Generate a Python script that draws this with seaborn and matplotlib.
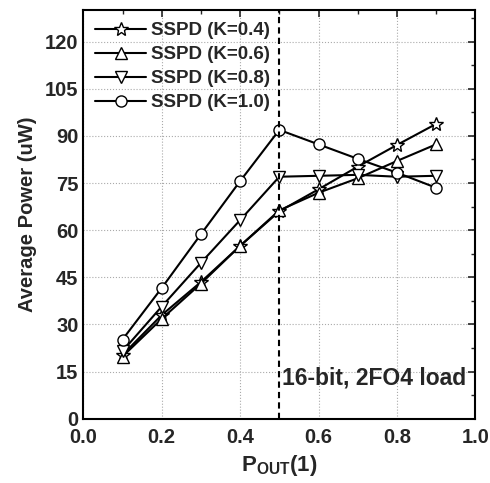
import matplotlib
matplotlib.use("Agg")
import matplotlib.pyplot as plt
from matplotlib.ticker import MultipleLocator
import seaborn as sns
import pandas as pd

p_out = [0.1, 0.2, 0.3, 0.4, 0.5, 0.6, 0.7, 0.8, 0.9]
k04 = [20.3, 33.0, 43.5, 55.0, 66.0, 73.0, 80.2, 87.1, 93.8]
k06 = [19.8, 31.8, 43.0, 55.0, 66.3, 71.9, 76.5, 82.0, 87.3]
k08 = [21.5, 35.7, 49.6, 63.2, 77.0, 77.3, 77.6, 77.0, 77.3]
k10 = [25.2, 41.6, 58.7, 75.6, 91.9, 87.3, 82.7, 78.3, 73.5]
labels = ["SSPD (K=0.4)", "SSPD (K=0.6)", "SSPD (K=0.8)", "SSPD (K=1.0)"]
markers = ["*", "^", "v", "o"]

sns.set_style("white")
plt.rcParams['font.family'] = ['Liberation Sans', 'DejaVu Sans']
plt.rcParams['font.weight'] = 'bold'

rows = []
for lab, vals in zip(labels, [k04, k06, k08, k10]):
    for x, v in zip(p_out, vals):
        rows.append({"p": x, "power": v, "series": lab})
df = pd.DataFrame(rows)

fig, ax = plt.subplots(figsize=(4.9, 4.83), dpi=100)
for lab, m in zip(labels, markers):
    sub = df[df["series"] == lab]
    ms = 10 if m == "*" else 8
    sns.lineplot(data=sub, x="p", y="power", ax=ax, color="black", lw=1.5,
                 marker=m, markersize=ms, markerfacecolor="white",
                 markeredgecolor="black", markeredgewidth=1.0, label=lab)

ax.axvline(0.5, color="black", ls=(0, (3, 2)), lw=1.5)
ax.text(0.508, 13, "16-bit, 2FO4 load", fontsize=16.5, fontweight="bold", va="center")

ax.set_xlim(0, 1.0)
ax.set_ylim(0, 130)
ax.xaxis.set_major_locator(MultipleLocator(0.2))
ax.xaxis.set_minor_locator(MultipleLocator(0.1))
ax.yaxis.set_minor_locator(MultipleLocator(7.5))
ax.set_yticks([0, 15, 30, 45, 60, 75, 90, 105, 120])
ax.grid(True, which="major", color="#aaaaaa", ls=":", lw=0.8)
ax.tick_params(which="both", direction="in", top=True, right=True, labelsize=14.5)
ax.tick_params(axis="x", pad=7)
ax.tick_params(which="major", length=5, width=1.2)
ax.tick_params(which="minor", length=3, width=1.0)
for s in ax.spines.values():
    s.set_color("black")
    s.set_linewidth(1.5)

ax.set_xlabel(r"P$_{\mathregular{OUT}}$(1)", fontsize=16, fontweight="bold", labelpad=4)
ax.set_ylabel("Average Power (uW)", fontsize=14.5, fontweight="bold", labelpad=6)

leg = ax.legend(loc="upper left", fontsize=13.5, frameon=False,
                labelspacing=0.36, handlelength=2.7, handletextpad=0.25,
                borderaxespad=0.25)

plt.subplots_adjust(left=0.17, right=0.97, bottom=0.133, top=0.979)
plt.savefig("out.png", dpi=100)
